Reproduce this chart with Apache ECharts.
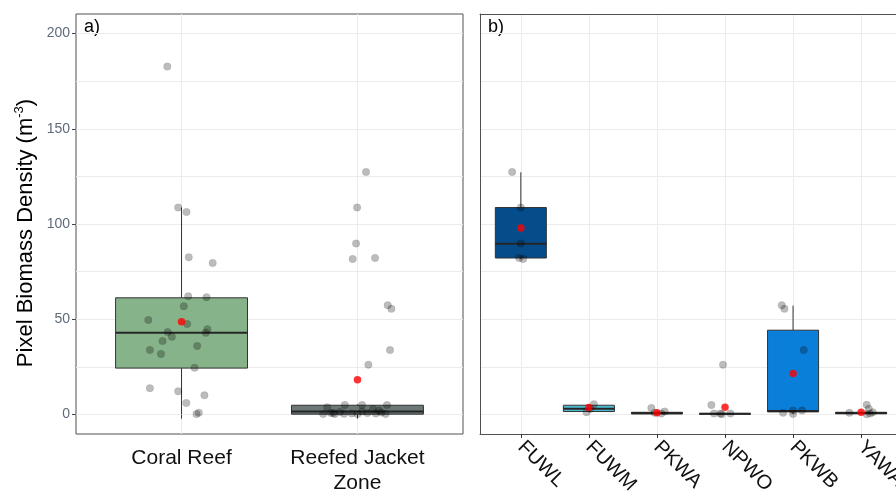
<!DOCTYPE html>
<html><head><meta charset="utf-8">
<script src="https://cdn.jsdelivr.net/npm/echarts@6/dist/echarts.min.js"></script>
<style>html,body{margin:0;padding:0;background:#fff}#c{width:896px;height:491px}</style>
</head><body><div id="c"></div>
<script>
// ---------- data ----------
const zonesA = ['Coral Reef', 'Reefed Jacket\nZone'];
const sitesB = ['FUWL', 'FUWM', 'PKWA', 'NPWO', 'PKWB', 'YAWA'];
const yTickValues = [0, 50, 100, 150, 200];
const yGridValues = [0, 25, 50, 75, 100, 125, 150, 175, 200];

// box statistics [min, Q1, median, Q3, max]
const boxStatsA = [[0.3, 24.4, 42.9, 61.3, 108.7], [0.0, 0.2, 1.6, 4.9, 5.4]];
const meansA = [48.7, 18.3];
const boxStatsB = [
  [81.7, 82.2, 89.7, 108.7, 127.2],
  [1.2, 1.6, 3.0, 4.9, 5.4],
  [0.3, 0.4, 0.7, 1.2, 1.6],
  [0.1, 0.2, 0.4, 0.6, 0.7],
  [0.3, 1.4, 1.9, 44.3, 57.2],
  [0.2, 0.4, 0.8, 1.2, 1.6]
];
const meansB = [97.9, 3.7, 0.9, 3.8, 21.5, 1.2];

// jittered observations (value, horizontal jitter in category units)
const coralValues = [182.7,108.7,106.3,82.6,79.6,62.1,61.6,56.9,49.7,47.6,44.8,43.3,42.9,40.8,38.6,36.0,33.9,31.8,24.6,13.8,12.2,10.1,6.1,1.0,0.3];
const coralJitter = [-0.081,-0.019,0.028,0.041,0.177,0.038,0.142,0.013,-0.189,0.032,0.147,-0.079,0.138,-0.055,-0.108,0.089,-0.180,-0.117,0.074,-0.180,-0.019,0.130,0.027,0.098,0.085];
const reefedValues = [127.4,108.7,89.8,82.2,81.7,57.4,55.5,33.9,26.2,3.9,5.0,5.0,5.0,0.3,0.8,0.8,0.3,0.4,0.3,1.6,0.8,2.9,2.2,1.1,0.3,1.4,0.6,0.5];
const reefedJitter = [0.049,-0.002,-0.008,0.100,-0.027,0.172,0.193,0.185,0.062,-0.172,-0.072,0.026,0.168,-0.195,-0.151,-0.138,-0.129,-0.076,0.0,0.026,0.057,0.088,0.122,0.136,0.160,-0.100,-0.032,0.104];

const fuwlValues = [127.4,108.7,89.8,82.2,81.7];
const fuwlJitter = [-0.128,0.0,0.0,-0.025,0.034];
const fuwmValues = [5.4,3.0,1.2];
const fuwmJitter = [0.074,0.02,-0.034];
const pkwaValues = [3.5,1.6,0.9,0.5];
const pkwaJitter = [-0.082,0.113,-0.034,0.065];
const npwoValues = [26.2,5.0,0.5,0.5,0.2,0.5];
const npwoJitter = [-0.029,-0.2,-0.162,-0.068,-0.049,0.079];
const pkwbValues = [57.4,55.5,33.9,0.9,2.1,2.1,0.3];
const pkwbJitter = [-0.166,-0.126,0.157,-0.147,0.0,0.132,0.0];
const yawaValues = [0.9,5.2,3.1,0.5,1.2,0.2];
const yawaJitter = [-0.172,0.082,0.112,0.132,0.171,0.082];

// ---------- styles ----------
const fillA = ['#86B38A', '#6B7877'];
const fillB = ['#044C8A', '#4CBCD0', '#3a3a3a', '#3a3a3a', '#0A7FD9', '#3a3a3a'];
const textFont = "'Liberation Sans', Arial, Helvetica, sans-serif";
const tickFont = "'Liberation Sans Narrow', 'Liberation Sans', Arial, sans-serif";
const gridColor = '#EBEBEB';
const frameColor = '#505050';
const Y_MIN = -10.2, Y_MAX = 210.3;

function jitterPoints(pos, values, jitter) {
  return values.map((v, i) => [pos + jitter[i], v]);
}
function boxData(stats) {
  return stats.map((s, i) => [i + 1].concat(s));
}
function meanData(means) {
  return means.map((m, i) => [i + 1, m]);
}
function boxRender(fills) {
  return function (params, api) {
    const x = api.value(0);
    const pLo = api.coord([x, api.value(1)]);
    const pQ1 = api.coord([x, api.value(2)]);
    const pMd = api.coord([x, api.value(3)]);
    const pQ3 = api.coord([x, api.value(4)]);
    const pHi = api.coord([x, api.value(5)]);
    const w = api.size([0.75, 0])[0];
    const cx = pMd[0];
    return {
      type: 'group',
      children: [
        { type: 'line', shape: { x1: cx, y1: pHi[1], x2: cx, y2: pQ3[1] }, style: { stroke: '#333', lineWidth: 1 } },
        { type: 'line', shape: { x1: cx, y1: pQ1[1], x2: cx, y2: pLo[1] }, style: { stroke: '#333', lineWidth: 1 } },
        { type: 'rect', shape: { x: cx - w / 2, y: pQ3[1], width: w, height: Math.max(pQ1[1] - pQ3[1], 0.5) },
          style: { fill: fills[params.dataIndex], stroke: '#333', lineWidth: 1 } },
        { type: 'line', shape: { x1: cx - w / 2, y1: pMd[1], x2: cx + w / 2, y2: pMd[1] }, style: { stroke: '#262626', lineWidth: 2 } }
      ]
    };
  };
}

const pointsA = jitterPoints(1, coralValues, coralJitter).concat(jitterPoints(2, reefedValues, reefedJitter));
const pointsB = [].concat(
  jitterPoints(1, fuwlValues, fuwlJitter),
  jitterPoints(2, fuwmValues, fuwmJitter),
  jitterPoints(3, pkwaValues, pkwaJitter),
  jitterPoints(4, npwoValues, npwoJitter),
  jitterPoints(5, pkwbValues, pkwbJitter),
  jitterPoints(6, yawaValues, yawaJitter)
);

const pointStyle = { color: 'rgba(0,0,0,0.33)', borderColor: 'rgba(0,0,0,0.12)', borderWidth: 0.8 };
const meanStyle = { color: '#FF0000' };

const chart = echarts.init(document.getElementById('c'), null, { renderer: 'canvas' });
chart.setOption({
  animation: false,
  backgroundColor: '#fff',
  textStyle: { fontFamily: textFont },
  grid: [
    { left: 76, top: 14, width: 387, height: 420, show: true, borderColor: frameColor, borderWidth: 1,
      backgroundColor: 'transparent', containLabel: false, outerBoundsMode: 'none' },
    { left: 480, top: 14, width: 490, height: 420, show: false,
      containLabel: false, outerBoundsMode: 'none' }
  ],
  xAxis: [
    {
      type: 'value', gridIndex: 0, min: 0.4, max: 2.6,
      axisLine: { show: false },
      axisTick: { show: true, customValues: [1, 2], length: 4, lineStyle: { color: '#333' } },
      axisLabel: {
        customValues: [1, 2], margin: 12, fontSize: 21, lineHeight: 25, color: '#111', fontFamily: textFont,
        formatter: v => zonesA[Math.round(v) - 1] || ''
      },
      splitLine: { show: true, lineStyle: { color: gridColor, width: 1 } }
    },
    {
      type: 'value', gridIndex: 1, min: 0.4, max: 7.6, position: 'bottom',
      axisLine: { show: true, onZero: false, lineStyle: { color: frameColor, width: 1 } },
      axisTick: { show: true, customValues: [1, 2, 3, 4, 5, 6], length: 4, lineStyle: { color: '#333' } },
      axisLabel: {
        customValues: [1, 2, 3, 4, 5, 6], margin: 10, fontSize: 20, rotate: -45, color: '#111', fontFamily: textFont,
        formatter: v => sitesB[Math.round(v) - 1] || ''
      },
      splitLine: { show: true, lineStyle: { color: gridColor, width: 1 } }
    },
    {
      type: 'value', gridIndex: 1, min: 0.4, max: 7.6, position: 'top',
      axisLine: { show: true, onZero: false, lineStyle: { color: frameColor, width: 1 } },
      axisTick: { show: false }, axisLabel: { show: false }, splitLine: { show: false }
    }
  ],
  yAxis: [
    {
      type: 'value', gridIndex: 0, min: Y_MIN, max: Y_MAX,
      axisLine: { show: false },
      axisTick: { show: false, customValues: yGridValues },
      axisLabel: { show: false, customValues: yGridValues },
      splitLine: { show: true, lineStyle: { color: gridColor, width: 1 } }
    },
    {
      type: 'value', gridIndex: 0, min: Y_MIN, max: Y_MAX, position: 'left',
      axisLine: { show: false },
      axisTick: { show: true, customValues: yTickValues, length: 4, lineStyle: { color: '#444' } },
      axisLabel: { show: true, customValues: yTickValues, margin: 6, fontSize: 14, color: '#5f6b7a', fontFamily: tickFont },
      splitLine: { show: false },
      name: '{t|Pixel Biomass Density (m}{s|-3}{t|)}',
      nameLocation: 'middle', nameGap: 37, nameRotate: 90,
      nameTextStyle: {
        padding: [0, 18, 0, 0],
        rich: {
          t: { fontSize: 22, color: '#000', fontFamily: textFont, lineHeight: 26 },
          s: { fontSize: 13, color: '#000', fontFamily: textFont, verticalAlign: 'top', lineHeight: 26 }
        }
      }
    },
    {
      type: 'value', gridIndex: 1, min: Y_MIN, max: Y_MAX, position: 'left',
      axisLine: { show: true, onZero: false, lineStyle: { color: frameColor, width: 1 } },
      axisTick: { show: false, customValues: yGridValues },
      axisLabel: { show: false, customValues: yGridValues },
      splitLine: { show: true, lineStyle: { color: gridColor, width: 1 } }
    }
  ],
  graphic: [
    { type: 'text', left: 84, top: 18, style: { text: 'a)', fontSize: 18, fill: '#000', fontFamily: textFont } },
    { type: 'text', left: 488, top: 18, style: { text: 'b)', fontSize: 18, fill: '#000', fontFamily: textFont } }
  ],
  series: [
    {
      type: 'custom', xAxisIndex: 0, yAxisIndex: 0, renderItem: boxRender(fillA),
      data: boxData(boxStatsA), encode: { x: 0, y: [1, 2, 3, 4, 5] }, z: 2
    },
    {
      type: 'scatter', xAxisIndex: 0, yAxisIndex: 0, data: pointsA, symbolSize: 7.5,
      itemStyle: pointStyle, z: 3
    },
    {
      type: 'scatter', xAxisIndex: 0, yAxisIndex: 0, data: meanData(meansA), symbolSize: 7.5,
      itemStyle: meanStyle, z: 4
    },
    {
      type: 'custom', xAxisIndex: 1, yAxisIndex: 2, renderItem: boxRender(fillB),
      data: boxData(boxStatsB), encode: { x: 0, y: [1, 2, 3, 4, 5] }, z: 2
    },
    {
      type: 'scatter', xAxisIndex: 1, yAxisIndex: 2, data: pointsB, symbolSize: 7.5,
      itemStyle: pointStyle, z: 3
    },
    {
      type: 'scatter', xAxisIndex: 1, yAxisIndex: 2, data: meanData(meansB), symbolSize: 7.5,
      itemStyle: meanStyle, z: 4
    }
  ]
});
</script>
</body></html>
